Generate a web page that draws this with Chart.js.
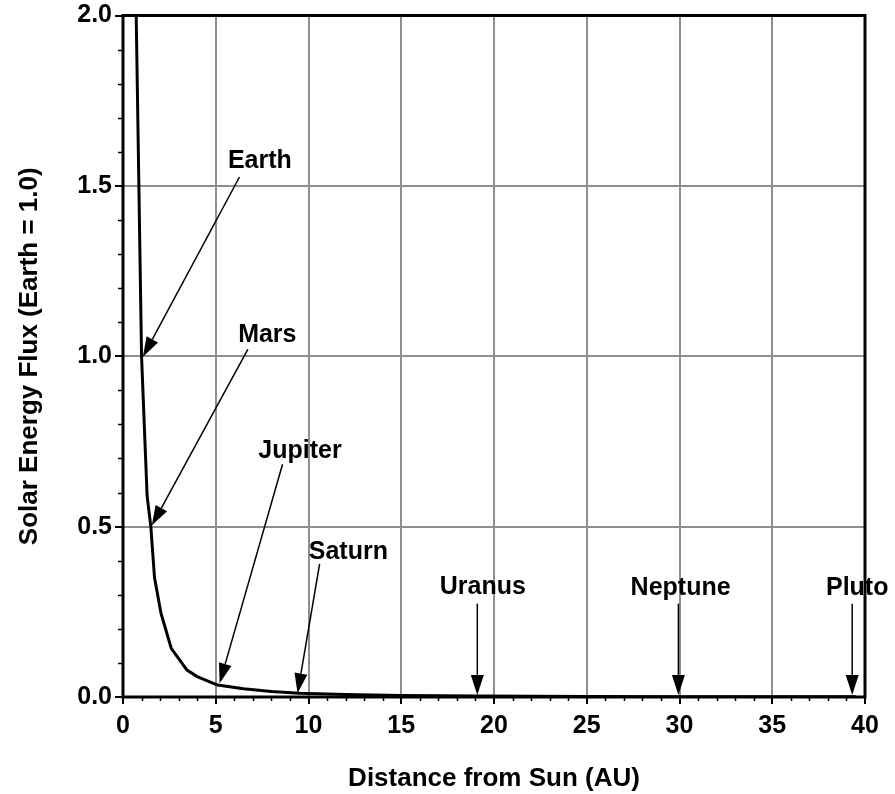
<!DOCTYPE html>
<html>
<head>
<meta charset="utf-8">
<script src="https://cdn.jsdelivr.net/npm/chart.js@4.4.1/dist/chart.umd.min.js"></script>
<style>
html,body{margin:0;padding:0;background:#fff}
#wrap{width:895px;height:794px;position:relative}
</style>
</head>
<body>
<div id="wrap"><canvas id="chart"></canvas></div>
<script>
// curve: distance (AU) vs flux (Earth = 1.0)
const distAU = [0.7, 1.0, 1.3, 1.5, 1.7, 2.05, 2.6, 3.45, 4.0, 5.1, 6.5, 8.0, 9.5, 12, 15, 19.2, 25, 30, 35, 39.5]
const flux   = [2.04, 1.0, 0.59, 0.5, 0.35, 0.245, 0.143, 0.079, 0.06, 0.035, 0.024, 0.016, 0.011, 0.007, 0.0045, 0.0027, 0.0016, 0.0011, 0.0008, 0.0006]

// planet call-outs (data units)
const planetNames = ['Earth', 'Mars', 'Jupiter', 'Saturn', 'Uranus', 'Neptune', 'Pluto']
const labelX     = [7.38, 7.78, 9.54, 12.15, 19.4, 30.06, 39.58]
const labelY     = [1.572, 1.061, 0.722, 0.425, 0.322, 0.32, 0.32]
const arrowTailX = [6.28, 6.73, 8.6, 10.6, 19.1, 29.94, 39.31]
const arrowTailY = [1.526, 1.02, 0.683, 0.391, 0.274, 0.274, 0.274]
const arrowTipX  = [1.07, 1.55, 5.21, 9.41, 19.1, 29.94, 39.31]
const arrowTipY  = [0.998, 0.503, 0.04, 0.011, 0.006, 0.006, 0.006]

const xMin = 0, xMax = 40, xStep = 5, xMinorStep = 1
const yMin = 0, yMax = 2, yStep = 0.5, yMinorStep = 0.1

const FONT = 'Liberation Sans, Arial, Helvetica, sans-serif'

function arrow(ctx, x1, y1, x2, y2) {
  const ang = Math.atan2(y2 - y1, x2 - x1)
  const len = 20, half = 6.5
  const bx = x2 - len * Math.cos(ang), by = y2 - len * Math.sin(ang)
  ctx.beginPath()
  ctx.moveTo(x1, y1)
  ctx.lineTo(bx, by)
  ctx.stroke()
  ctx.beginPath()
  ctx.moveTo(x2, y2)
  ctx.lineTo(bx + half * Math.sin(ang), by - half * Math.cos(ang))
  ctx.lineTo(bx - half * Math.sin(ang), by + half * Math.cos(ang))
  ctx.closePath()
  ctx.fill()
}

const calloutPlugin = {
  id: 'callouts',
  afterDatasetsDraw(chart) {
    const ctx = chart.ctx, xs = chart.scales.x, ys = chart.scales.y
    ctx.save()
    ctx.strokeStyle = '#000'
    ctx.fillStyle = '#000'
    ctx.lineWidth = 1.5
    planetNames.forEach((name, i) => {
      arrow(ctx,
        xs.getPixelForValue(arrowTailX[i]), ys.getPixelForValue(arrowTailY[i]),
        xs.getPixelForValue(arrowTipX[i]), ys.getPixelForValue(arrowTipY[i]))
      ctx.font = 'bold 25px ' + FONT
      ctx.textAlign = 'center'
      ctx.textBaseline = 'middle'
      ctx.fillText(name, xs.getPixelForValue(labelX[i]), ys.getPixelForValue(labelY[i]))
    })
    ctx.restore()
  },
  afterDraw(chart) {
    const ctx = chart.ctx, a = chart.chartArea, xs = chart.scales.x, ys = chart.scales.y
    ctx.save()
    ctx.strokeStyle = '#000'
    // minor ticks
    ctx.lineWidth = 1.5
    ctx.beginPath()
    for (let v = yMin; v <= yMax + 1e-9; v += yMinorStep) {
      if (Math.abs(v / yStep - Math.round(v / yStep)) < 1e-6) continue
      const y = Math.round(ys.getPixelForValue(v)) + 0.5
      ctx.moveTo(a.left - 5, y); ctx.lineTo(a.left, y)
    }
    for (let v = xMin; v <= xMax + 1e-9; v += xMinorStep) {
      if (v % xStep === 0) continue
      const x = Math.round(xs.getPixelForValue(v)) + 0.5
      ctx.moveTo(x, a.bottom); ctx.lineTo(x, a.bottom + 4)
    }
    ctx.stroke()
    // frame
    ctx.lineWidth = 3
    ctx.strokeRect(a.left, a.top, a.right - a.left, a.bottom - a.top)
    ctx.restore()
  }
}

const ctx = document.getElementById('chart').getContext('2d')
new Chart(ctx, {
  type: 'scatter',
  data: {
    datasets: [{
      data: distAU.map((d, i) => ({x: d, y: flux[i]})),
      showLine: true,
      borderColor: '#000',
      borderWidth: 3,
      pointRadius: 0,
      tension: 0
    }]
  },
  options: {
    responsive: true,
    maintainAspectRatio: false,
    animation: false,
    devicePixelRatio: 1,
    layout: { padding: { top: 13, right: 30, left: 0, bottom: 0 } },
    plugins: { legend: { display: false }, tooltip: { enabled: false } },
    scales: {
      x: {
        type: 'linear', min: xMin, max: xMax,
        afterFit: s => { s.height = 97 },
        border: { display: false },
        grid: { color: '#8f8f8f', lineWidth: 2, tickColor: '#000', tickWidth: 2, tickLength: 7 },
        ticks: {
          stepSize: xStep, color: '#000', padding: 10, maxRotation: 0,
          font: { family: FONT, size: 25, weight: 'bold', lineHeight: 1 }
        },
        title: {
          display: true, text: 'Distance from Sun (AU)', color: '#000',
          font: { family: FONT, size: 26, weight: 'bold', lineHeight: 1.2 },
          padding: { top: 0, bottom: 0 }
        }
      },
      y: {
        type: 'linear', min: yMin, max: yMax,
        afterFit: s => { s.width = 123 },
        border: { display: false },
        grid: { color: '#8f8f8f', lineWidth: 2, tickColor: '#000', tickWidth: 2, tickLength: 8 },
        ticks: {
          stepSize: yStep, color: '#000', padding: 3,
          callback: v => Number(v).toFixed(1),
          font: { family: FONT, size: 25, weight: 'bold', lineHeight: 1 }
        },
        title: {
          display: true, text: 'Solar Energy Flux (Earth = 1.0)', color: '#000',
          font: { family: FONT, size: 26, weight: 'bold', lineHeight: 1.2 },
          padding: { top: 14, bottom: 0 }
        }
      }
    }
  },
  plugins: [calloutPlugin]
})
</script>
</body>
</html>
